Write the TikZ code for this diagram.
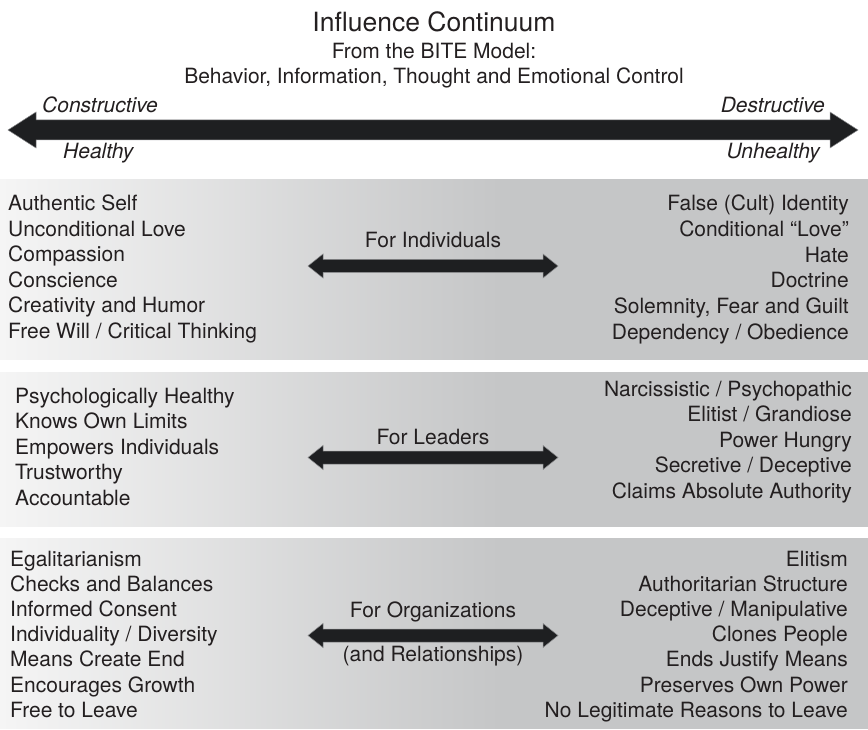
\documentclass[tikz,border=0pt]{standalone}
\usepackage{fontspec}
\setmainfont{TeX Gyre Heros}
\definecolor{inkc}{HTML}{231F20}
\definecolor{arrowink}{HTML}{1E1F21}
\definecolor{arrowedge}{HTML}{8A8B8D}
\definecolor{panelgray}{HTML}{C5C6C7}
\definecolor{panelwhite}{HTML}{F5F5F5}
% light on the left, fading to flat grey a little past the middle
\pgfdeclarehorizontalshading{bandshade}{100bp}{%
  color(0bp)=(panelwhite); color(25bp)=(panelwhite);
  color(53.8bp)=(panelgray); color(100bp)=(panelgray)}
\begin{document}
\begin{tikzpicture}[x=1pt,y=-1pt,
  every node/.style={inner sep=0pt,text=inkc},
  itemfont/.style={font=\fontsize{21}{25}\selectfont},
  leftitem/.style={itemfont,anchor=base west},
  rightitem/.style={itemfont,anchor=base east},
  midlabel/.style={itemfont,anchor=base},
  poletext/.style={font=\fontsize{21}{25}\selectfont\itshape},
  band/.style={shading=bandshade,shading angle=0},
  pics/twoway/.style n args={4}{code={
    % half length, head length, head half-height, shaft half-height
    \filldraw[fill=arrowink,draw=arrowedge,line width=0.5pt,line join=miter]
      (-#1,0) -- (-#1+#2,-#3) -- (-#1+#2,-#4) -- (#1-#2,-#4) -- (#1-#2,-#3)
      -- (#1,0) -- (#1-#2,#3) -- (#1-#2,#4) -- (-#1+#2,#4) -- (-#1+#2,#3) -- cycle;
  }}]
\useasboundingbox (0,0) rectangle (868,730);

% title block
\node[anchor=base,font=\fontsize{26.5}{30}\selectfont] (title) at (434,32) {Influence Continuum};
\node[anchor=base,font=\fontsize{21}{25}\selectfont] (sub1) at (434,59) {From the BITE Model:};
\node[anchor=base,font=\fontsize{21}{25}\selectfont] (sub2) at (434,84) {Behavior, Information, Thought and Emotional Control};

% main continuum arrow
\pic (mainarrow) at (433,130) {twoway={425}{28}{18}{10}};
\node[poletext,anchor=base west] (constructive) at (42,113) {Constructive};
\node[poletext,anchor=base west] (healthy) at (63,159) {Healthy};
\node[poletext,anchor=base east] (destructive) at (825,113) {Destructive};
\node[poletext,anchor=base east] (unhealthy) at (820,159) {Unhealthy};

% shaded bands
\foreach \top/\bot in {180/359, 372/526, 538/728}
  \shade[band] (0,\top) rectangle (868,\bot);

% individuals
\foreach \t [count=\i from 0] in {Authentic Self, Unconditional Love, Compassion,
    Conscience, Creativity and Humor, Free Will / Critical Thinking}
  \node[leftitem] (ind-l\i) at (8,211+25.4*\i) {\t};
\foreach \t [count=\i from 0] in {False (Cult) Identity, Conditional “Love”, Hate,
    Doctrine, {Solemnity, Fear and Guilt}, Dependency / Obedience}
  \node[rightitem] (ind-r\i) at (849,211+25.6*\i) {\t};
\node[midlabel] (ind-label) at (433,248) {For Individuals};
\pic (ind-arrow) at (433,266) {twoway={125}{15}{12}{6.5}};

% leaders
\foreach \t [count=\i from 0] in {Psychologically Healthy, Knows Own Limits,
    Empowers Individuals, Trustworthy, Accountable}
  \node[leftitem] (lead-l\i) at (15,403+25.5*\i) {\t};
\foreach \t [count=\i from 0] in {Narcissistic / Psychopathic, Elitist / Grandiose,
    Power Hungry, Secretive / Deceptive, Claims Absolute Authority}
  \node[rightitem] (lead-r\i) at (852,396+25.5*\i) {\t};
\node[midlabel] (lead-label) at (433,444) {For Leaders};
\pic (lead-arrow) at (433,457.5) {twoway={125}{15}{12}{6.5}};

% organizations
\foreach \t [count=\i from 0] in {Egalitarianism, Checks and Balances, Informed Consent,
    Individuality / Diversity, Means Create End, Encourages Growth, Free to Leave}
  \node[leftitem] (org-l\i) at (10,566+25.2*\i) {\t};
\foreach \t [count=\i from 0] in {Elitism, Authoritarian Structure, Deceptive / Manipulative,
    Clones People, Ends Justify Means, Preserves Own Power, No Legitimate Reasons to Leave}
  \node[rightitem] (org-r\i) at (848,566+25.2*\i) {\t};
\node[midlabel] (org-label) at (433,617) {For Organizations};
\pic (org-arrow) at (433,635.5) {twoway={125}{15}{12}{6.5}};
\node[midlabel] (org-label2) at (433,661) {(and Relationships)};
\end{tikzpicture}
\end{document}
